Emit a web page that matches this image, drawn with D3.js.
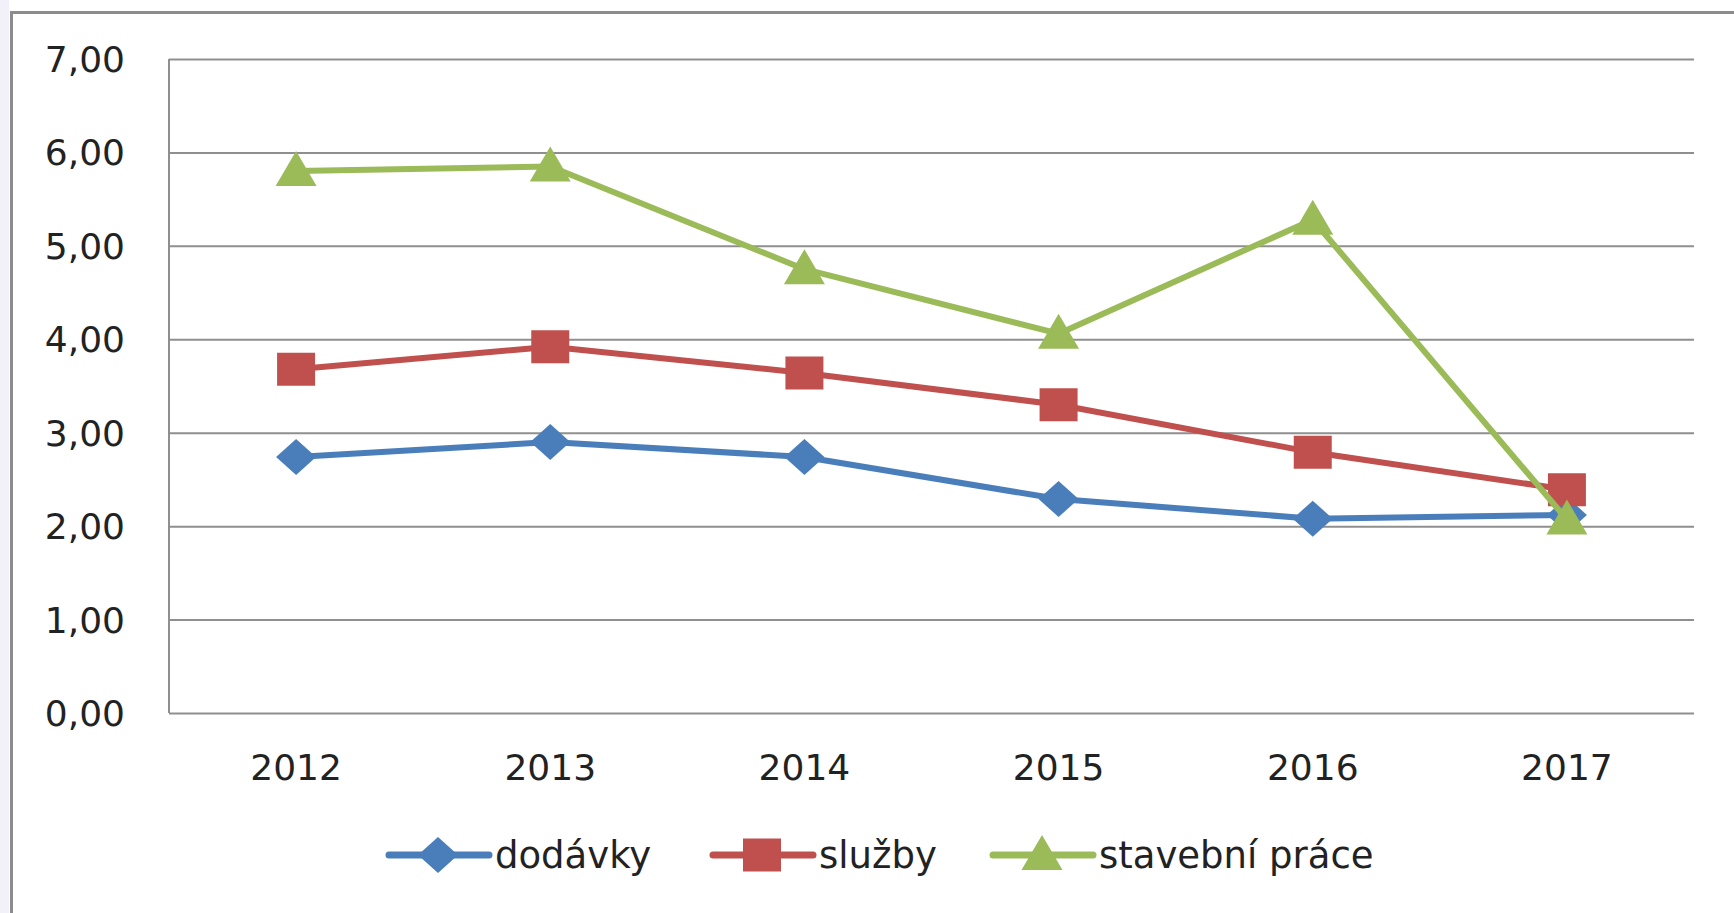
<!DOCTYPE html>
<html>
<head>
<meta charset="utf-8">
<title>Chart</title>
<script src="https://cdn.jsdelivr.net/npm/d3@7"></script>
<style>
	body { margin: 0; background: #fff; }
	svg { display: block; }
</style>
</head>
<body>
<div id="vis"></div>
<script type="text/javascript">
// data
var years = ['2012', '2013', '2014', '2015', '2016', '2017'];
var seriesNames = ['dodávky', 'služby', 'stavební práce'];
var dodavky = [2.74, 2.90, 2.74, 2.29, 2.08, 2.12];
var sluzby = [3.68, 3.92, 3.64, 3.30, 2.79, 2.39];
var stavebni = [5.80, 5.85, 4.75, 4.06, 5.28, 2.07];
var yTicks = [0, 1, 2, 3, 4, 5, 6, 7];

const W = 1734, H = 913;
const COLORS = ['#4a7ebb', '#c0504d', '#9bbb59'];
const SHAPES = ['diamond', 'square', 'triangle'];
const FONT = '"DejaVu Sans", Verdana, sans-serif';

var svg = d3.select('#vis').append('svg').attr('width', W).attr('height', H);
svg.append('rect').attr('width', W).attr('height', H).attr('fill', '#fff');
// faint background strip left of the frame
svg.append('rect').attr('x', 0).attr('y', 0).attr('width', 9).attr('height', H).attr('fill', '#f2f1fa');
// chart frame
svg.append('rect').attr('x', 11.5).attr('y', 12.5).attr('width', W + 20).attr('height', H + 20)
	.attr('fill', '#fff').attr('stroke', '#8c8c8c').attr('stroke-width', 3);

var plot = { left: 169, right: 1694, top: 59, bottom: 713 };

var x = d3.scalePoint().domain(years).range([plot.left, plot.right]).padding(0.5);
var y = d3.scaleLinear().domain([0, 7]).range([plot.bottom, plot.top]);

var cz = d3.formatLocale({ decimal: ',', thousands: ' ', grouping: [3], currency: ['', ' Kč'] });
var fmt = cz.format('.2f');

// gridlines
var grid = svg.append('g').attr('transform', 'translate(' + plot.left + ',0)')
	.call(d3.axisLeft(y).tickValues(yTicks).tickSize(-(plot.right - plot.left)).tickFormat(''));
grid.select('.domain').remove();
grid.selectAll('line').attr('stroke', '#8f8f8f').attr('stroke-width', 2);

// left axis line
svg.append('line').attr('x1', plot.left).attr('x2', plot.left)
	.attr('y1', y(7)).attr('y2', y(0)).attr('stroke', '#8f8f8f').attr('stroke-width', 2);

// y labels
svg.append('g').selectAll('text').data(yTicks).enter().append('text')
	.attr('x', 125).attr('y', function(d){ return y(d); })
	.attr('dy', '0.36em').attr('text-anchor', 'end')
	.style('font-family', FONT).style('font-size', '36px').attr('fill', '#222')
	.text(function(d){ return fmt(d); });

// x labels
svg.append('g').selectAll('text').data(years).enter().append('text')
	.attr('x', function(d){ return x(d); }).attr('y', 780)
	.attr('text-anchor', 'middle')
	.style('font-family', FONT).style('font-size', '36px').attr('fill', '#222')
	.text(function(d){ return d; });

function markerPath(shape){
	switch(shape){
		case 'diamond': return 'M-20,0L0,-18L20,0L0,18Z';
		case 'square': return 'M-19,-16.5H19V16.5H-19Z';
		case 'triangle': return 'M0,-20L20.5,15L-20.5,15Z';
	}
}

var allSeries = [dodavky, sluzby, stavebni];
var line = d3.line().x(function(d, i){ return x(years[i]); }).y(function(d){ return y(d); });

allSeries.forEach(function(vals, s){
	var g = svg.append('g');
	g.append('path').datum(vals).attr('d', line)
		.attr('fill', 'none').attr('stroke', COLORS[s]).attr('stroke-width', 6)
		.attr('stroke-linejoin', 'round');
	g.selectAll('path.mk').data(vals).enter().append('path').attr('class', 'mk')
		.attr('d', markerPath(SHAPES[s]))
		.attr('transform', function(d, i){ return 'translate(' + x(years[i]) + ',' + y(d) + ')'; })
		.attr('fill', COLORS[s]);
});

// legend
var legendY = 855;
var legendX = [389, 713, 993];
seriesNames.forEach(function(name, s){
	var lg = svg.append('g').attr('transform', 'translate(' + legendX[s] + ',' + legendY + ')');
	lg.append('line').attr('x1', 0).attr('x2', 100).attr('y1', 0).attr('y2', 0)
		.attr('stroke', COLORS[s]).attr('stroke-width', 7).attr('stroke-linecap', 'round');
	lg.append('path').attr('d', markerPath(SHAPES[s])).attr('transform', 'translate(49,0)').attr('fill', COLORS[s]);
	lg.append('text').attr('x', 106).attr('y', 0).attr('dy', '0.36em')
		.style('font-family', FONT).style('font-size', '37px').attr('fill', '#222')
		.text(name);
});
</script>
</body>
</html>
